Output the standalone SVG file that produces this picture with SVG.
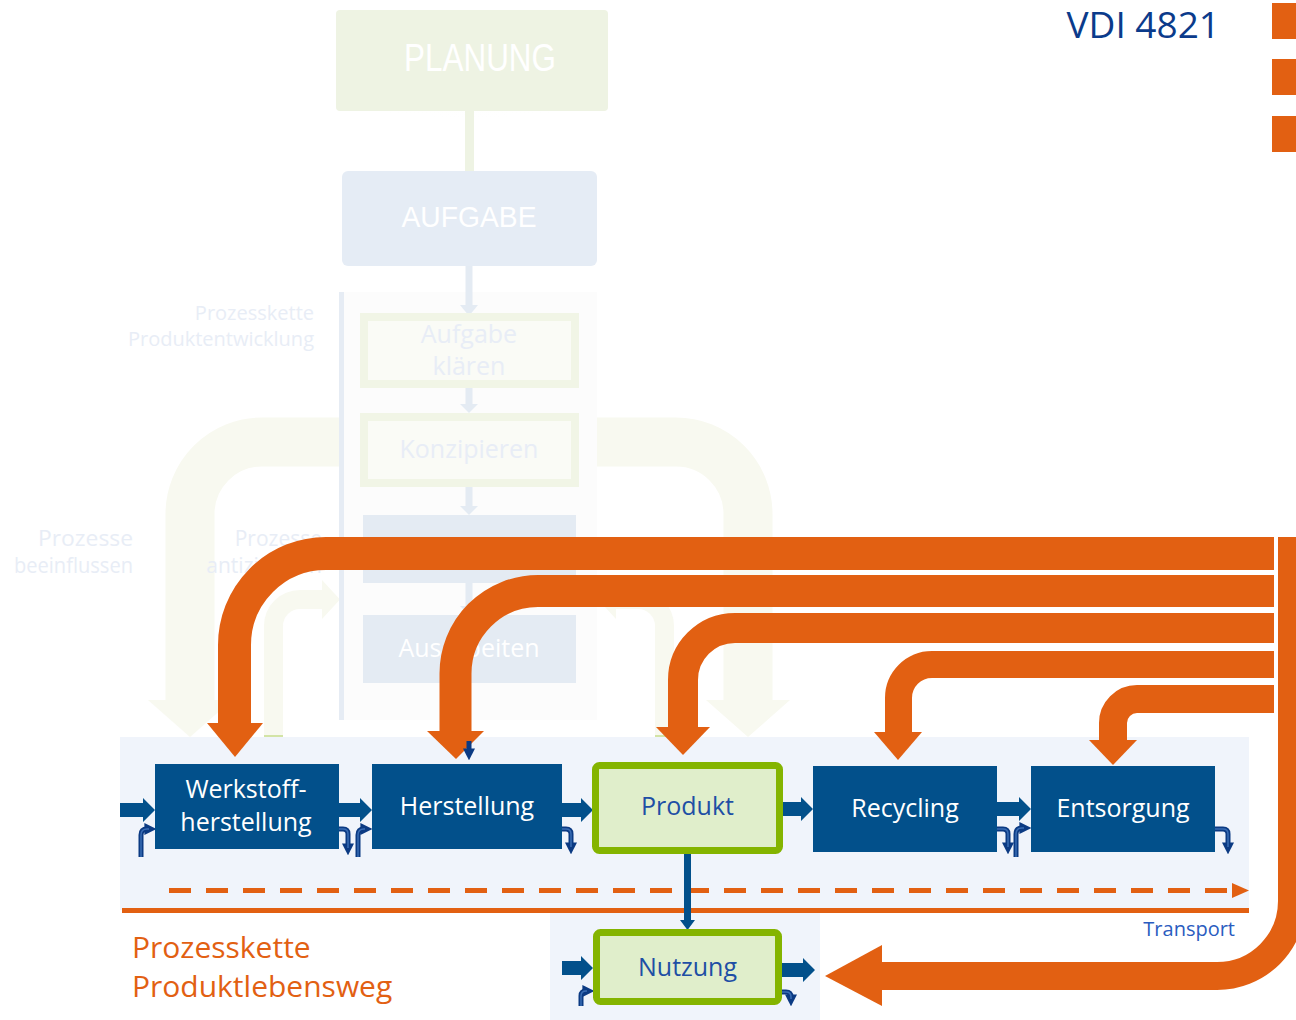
<svg xmlns="http://www.w3.org/2000/svg" width="1296" height="1020" viewBox="0 0 1296 1020">
<defs>
<style>
.t{font-family:'Open Sans','Noto Sans','DejaVu Sans',sans-serif}
.ft{font-family:'Open Sans','Noto Sans',sans-serif;fill:#e8edf6}
.cond{font-family:'Liberation Sans',Arial,sans-serif;fill:#ffffff}
.fa{fill:none;stroke:#f8f9f0}
.fah{fill:#f8f9f0}
.or{fill:none;stroke:#e26012;stroke-linejoin:round}
.orh{fill:#e26012}
.fl{fill:#02508b}
.box{fill:#02508b}
.gbox{fill:#e0eecb;stroke:#84b400;stroke-width:7}
.wt{fill:#ffffff;font-size:25px;text-anchor:middle}
.bt{fill:#1e4fa5;font-size:25px;text-anchor:middle}
.hk{fill:none;stroke:#0b3a83;stroke-width:5}
.hki{fill:none;stroke:#3a6db5;stroke-width:1.5}
.fbx{fill:#fafbf6;stroke:#f1f5e6;stroke-width:8}
.fbl{fill:#e4ebf3}
.fln{stroke:#e4ebf3;stroke-width:7;fill:none}
.flh{fill:#e4ebf3}
</style>
<marker id="hd" viewBox="0 0 10 10" refX="3" refY="5" markerWidth="12" markerHeight="12" markerUnits="userSpaceOnUse" orient="auto">
<path d="M0,0 L10,5 L0,10 z" fill="#0b3a83"/>
</marker>
<radialGradient id="sh" cx="0.5" cy="0" r="0.6">
<stop offset="0" stop-color="#f4f6f0"/>
<stop offset="1" stop-color="#ffffff" stop-opacity="0"/>
</radialGradient>
</defs>

<g id="faded-background">
<ellipse cx="470" cy="112" rx="140" ry="40" fill="url(#sh)"/>
<rect x="465" y="110" width="9" height="62" fill="#eef3e3"/>
<rect x="336" y="10" width="272" height="101" rx="4" fill="#eef3e3"/>
<text x="480" y="71" class="cond" font-size="38" text-anchor="middle" textLength="152" lengthAdjust="spacingAndGlyphs">PLANUNG</text>
<rect x="342" y="171" width="255" height="95" rx="6" fill="#e5ecf5"/>
<text x="469" y="227" class="cond" font-size="29" text-anchor="middle" textLength="135" lengthAdjust="spacingAndGlyphs">AUFGABE</text>

<path class="fa" stroke-width="49" d="M339,442 H262 A72,72 0 0 0 190,514 V701"/>
<polygon class="fah" points="148,700 232,700 190,737"/>
<path class="fa" stroke-width="49" d="M597,442 H676 A72,72 0 0 1 748,514 V701"/>
<polygon class="fah" points="706,700 790,700 748,737"/>
<path class="fa" stroke-width="19" d="M273.5,737 V626 A26.5,26.5 0 0 1 300,599.5 H323"/>
<polygon class="fah" points="322,580 322,619 340,599.5"/>
<path class="fa" stroke-width="19" d="M664.5,737 V626 A26.5,26.5 0 0 0 638,599.5 H615"/>
<polygon class="fah" points="616,580 616,619 598,599.5"/>
<rect x="264" y="735" width="19" height="3" fill="#d3e4a6"/>
<rect x="655" y="735" width="19" height="3" fill="#d3e4a6"/>

<rect x="344" y="292" width="253" height="428" fill="#fcfcfc"/>
<rect x="339" y="292" width="5" height="428" fill="#e6ecf4"/>

<path class="fln" d="M469,266 V306"/>
<polygon class="flh" points="460,305 478,305 469,316"/>
<rect class="fbx" x="364" y="317" width="211" height="67"/>
<text class="ft" x="469" y="343" font-size="25" text-anchor="middle">Aufgabe</text>
<text class="ft" x="469" y="375" font-size="25" text-anchor="middle">klären</text>
<path class="fln" d="M469,388 V405"/>
<polygon class="flh" points="460,404 478,404 469,413"/>
<rect class="fbx" x="364" y="417" width="211" height="66"/>
<text class="ft" x="469" y="458" font-size="25" text-anchor="middle">Konzipieren</text>
<path class="fln" d="M469,487 V507"/>
<polygon class="flh" points="460,506 478,506 469,515"/>
<rect class="fbl" x="363" y="515" width="213" height="68"/>
<path class="fln" d="M469,583 V607"/>
<polygon class="flh" points="460,606 478,606 469,615"/>
<rect class="fbl" x="363" y="615" width="213" height="68"/>
<text x="469" y="657" class="t" font-size="25" fill="#ffffff" text-anchor="middle">Ausarbeiten</text>

<text class="ft" x="314" y="320" font-size="20" text-anchor="end">Prozesskette</text>
<text class="ft" x="314" y="346" font-size="20" text-anchor="end">Produktentwicklung</text>
<text class="ft" x="133" y="546" font-size="21" text-anchor="end" textLength="95" lengthAdjust="spacingAndGlyphs">Prozesse</text>
<text class="ft" x="133" y="573" font-size="21" text-anchor="end" textLength="119" lengthAdjust="spacingAndGlyphs">beeinflussen</text>
<text class="ft" x="322" y="546" font-size="21" text-anchor="end">Prozesse</text>
<text class="ft" x="322" y="573" font-size="21" text-anchor="end">antizipieren</text>
</g>

<g id="lifecycle-panel">
<rect x="120" y="737" width="1129" height="173" fill="#f0f4fb"/>
<rect x="550" y="910" width="270" height="110" fill="#f0f4fb"/>
</g>

<g id="connectors">
<path class="or" stroke-width="33" d="M1274,553.5 H326 A91.5,91.5 0 0 0 234.5,645 V724"/>
<polygon class="orh" points="207,723 263,723 235,757"/>
<path class="or" stroke-width="32" d="M1274,591 H538 A82.5,82.5 0 0 0 455.5,673.5 V732"/>
<polygon class="orh" points="427,731 484,731 456,759"/>
<path class="or" stroke-width="30" d="M1274,628 H735 A52,52 0 0 0 683,680 V728"/>
<polygon class="orh" points="656,727 710,727 683,755"/>
<path class="or" stroke-width="27" d="M1274,664.5 H932 A33.5,33.5 0 0 0 898.5,698 V733"/>
<polygon class="orh" points="874,732 922,732 898,760"/>
<path class="or" stroke-width="28" d="M1274,699 H1137 A24,24 0 0 0 1113,723 V741"/>
<polygon class="orh" points="1089,740 1137,740 1113,765"/>
<path class="or" stroke-width="28" d="M1292,537 V901 A75,75 0 0 1 1217,976 H880"/>
<polygon class="orh" points="882,945 882,1006 825,976"/>

<line x1="122" y1="910.5" x2="1249" y2="910.5" stroke="#e26012" stroke-width="5"/>
<line x1="169" y1="890.5" x2="1233" y2="890.5" stroke="#e26012" stroke-width="5" stroke-dasharray="22 15"/>
<polygon class="orh" points="1232,883 1249,890.5 1232,898"/>

<polygon class="fl" points="120,803 143,803 143,798 155,810 143,822 143,817 120,817"/>
<polygon class="fl" points="339,803 360,803 360,798 372,810 360,822 360,817 339,817"/>
<polygon class="fl" points="562,803 581,803 581,798 593,810 581,822 581,817 562,817"/>
<polygon class="fl" points="783,802 801,802 801,797 813,809 801,821 801,816 783,816"/>
<polygon class="fl" points="997,802 1019,802 1019,797 1031,809 1019,821 1019,816 997,816"/>
<polygon class="fl" points="562,961 581,961 581,956 593,968 581,980 581,975 562,975"/>
<polygon class="fl" points="782,963 803,963 803,958 815,970 803,982 803,977 782,977"/>
<polygon class="fl" points="684,854 691,854 691,920 695,920 687.5,930 680,920 684,920"/>

<g id="hooks">
<path class="hk" marker-end="url(#hd)" d="M141,857 V835 Q141,829 147,829 H148"/>
<path class="hk" marker-end="url(#hd)" d="M339,829 H343 Q348,829 348,834 V847"/>
<path class="hk" marker-end="url(#hd)" d="M358,857 V835 Q358,829 364,829 H364"/>
<path class="hk" marker-end="url(#hd)" d="M562,829 H566 Q571,829 571,834 V846"/>
<path class="hk" marker-end="url(#hd)" d="M997,829 H1003 Q1008,829 1008,834 V846"/>
<path class="hk" marker-end="url(#hd)" d="M1016,857 V834 Q1016,828 1022,828 H1023"/>
<path class="hk" marker-end="url(#hd)" d="M1215,829 H1223 Q1228,829 1228,834 V846"/>
<path class="hk" marker-end="url(#hd)" d="M581,1006 V996 Q581,991 586,991 H586"/>
<path class="hk" marker-end="url(#hd)" d="M782,992 H786 Q791,992 791,997 V998"/>
<path class="hk" marker-end="url(#hd)" d="M469,741 V752"/>
<path class="hki" d="M141,857 V835 Q141,829 147,829 H149"/>
<path class="hki" d="M339,829 H343 Q348,829 348,834 V848"/>
<path class="hki" d="M358,857 V835 Q358,829 364,829 H365"/>
<path class="hki" d="M562,829 H566 Q571,829 571,834 V847"/>
<path class="hki" d="M997,829 H1003 Q1008,829 1008,834 V847"/>
<path class="hki" d="M1016,857 V834 Q1016,828 1022,828 H1024"/>
<path class="hki" d="M1215,829 H1223 Q1228,829 1228,834 V847"/>
<path class="hki" d="M581,1006 V996 Q581,991 586,991 H587"/>
<path class="hki" d="M782,992 H786 Q791,992 791,997 V999"/>
</g>
</g>

<g id="node-werkstoffherstellung">
<rect class="box" x="155" y="764" width="184" height="85"/>
<text class="t wt" x="246" y="798">Werkstoff-</text>
<text class="t wt" x="246" y="831">herstellung</text>
</g>
<g id="node-herstellung">
<rect class="box" x="372" y="764" width="190" height="85"/>
<text class="t wt" x="467" y="815">Herstellung</text>
</g>
<g id="node-produkt">
<rect class="gbox" x="595.5" y="765.5" width="184" height="85" rx="4"/>
<text class="t bt" x="687.5" y="815">Produkt</text>
</g>
<g id="node-recycling">
<rect class="box" x="813" y="766" width="184" height="86"/>
<text class="t wt" x="905" y="817">Recycling</text>
</g>
<g id="node-entsorgung">
<rect class="box" x="1031" y="766" width="184" height="86"/>
<text class="t wt" x="1123" y="817">Entsorgung</text>
</g>
<g id="node-nutzung">
<rect class="gbox" x="596.5" y="932.5" width="182" height="69" rx="4"/>
<text class="t bt" x="687.5" y="976">Nutzung</text>
</g>

<g id="labels">
<text class="t" x="1220" y="38" font-size="37" fill="#0b3b8b" text-anchor="end">VDI 4821</text>
<rect x="1272" y="3" width="24" height="36" fill="#e26012"/>
<rect x="1272" y="59" width="24" height="36" fill="#e26012"/>
<rect x="1272" y="116" width="24" height="36" fill="#e26012"/>
<text class="t" x="1235" y="936" font-size="20" fill="#2a5cc0" text-anchor="end">Transport</text>
<text class="t" x="132" y="958" font-size="30" fill="#e26012">Prozesskette</text>
<text class="t" x="132" y="997" font-size="30" fill="#e26012">Produktlebensweg</text>
</g>
</svg>
